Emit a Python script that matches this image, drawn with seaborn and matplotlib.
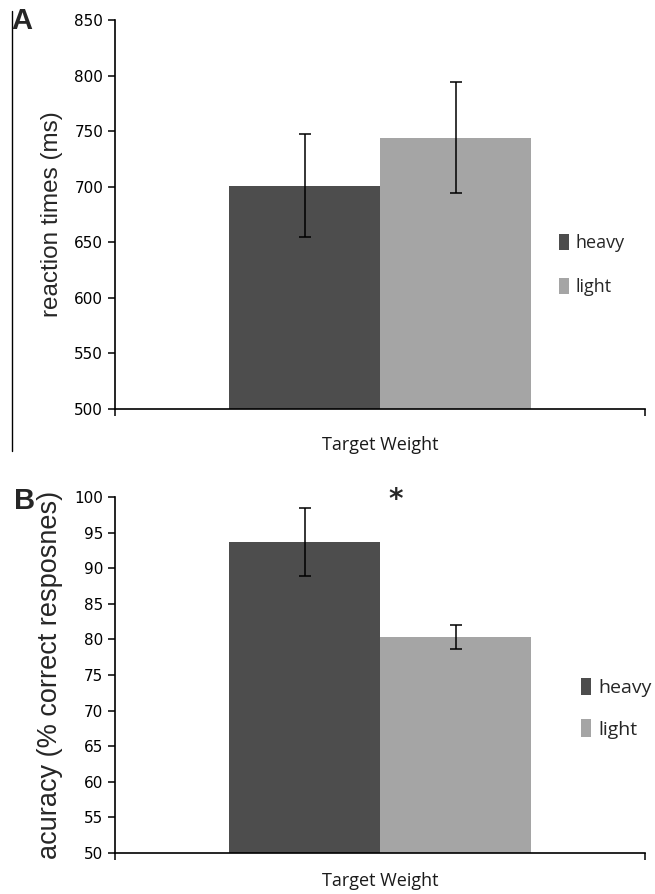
import pandas as pd
import seaborn as sns
import matplotlib.pyplot as plt
from matplotlib.lines import Line2D

# values
weights = ['heavy', 'light']
rt_means = [701, 744]
rt_err = [46, 50]
acc_means = [93.7, 80.3]
acc_err = [4.8, 1.7]
rt_ticks = [500, 550, 600, 650, 700, 750, 800, 850]
acc_ticks = [50, 55, 60, 65, 70, 75, 80, 85, 90, 95, 100]

colors = {'heavy': '#4d4d4d', 'light': '#a5a5a5'}

sns.set_style('white')
plt.rcParams['font.family'] = ['DejaVu Sans']

fig = plt.figure(figsize=(6.55, 8.94), dpi=100)
ax_a = fig.add_axes([0.1756, 0.5425, 0.8094, 0.4351])
ax_b = fig.add_axes([0.1756, 0.0459, 0.8094, 0.3982])


def draw_panel(ax, means, errs, ticks, ylabel, ylab_size, xlab_pad, leg_x, leg_y, leg_size, leg_space):
    df = pd.DataFrame({'Target Weight': [''] * len(weights), 'weight': weights, 'value': means})
    sns.barplot(data=df, x='Target Weight', y='value', hue='weight', hue_order=weights,
                palette=colors, errorbar=None, width=0.8, saturation=1, ax=ax,
                edgecolor='none', linewidth=0)
    # error bars at the centre of each bar
    for cont, m, e in zip(ax.containers, means, errs):
        bar = cont.patches[0]
        ax.errorbar(bar.get_x() + bar.get_width() / 2, m, yerr=e, color='black',
                    elinewidth=1.1, capsize=4, capthick=1.1, zorder=5)
    ax.set_xlim(-0.702, 0.702)
    ax.set_ylim(ticks[0], ticks[-1])
    ax.set_yticks(ticks)
    ax.set_xticks([-0.702, 0.702])
    ax.set_xticklabels(['', ''])
    ax.tick_params(axis='both', direction='out', length=5, width=1.1, color='black',
                   labelsize=11, labelcolor='black', left=True, bottom=True)
    sns.despine(ax=ax)
    for s in ['left', 'bottom']:
        ax.spines[s].set_color('black')
        ax.spines[s].set_linewidth(1.2)
    ax.set_ylabel(ylabel, fontsize=ylab_size, family='Liberation Sans', labelpad=8)
    ax.set_xlabel('Target Weight', fontsize=13, family='Open Sans', labelpad=xlab_pad, color='#1a1a1a')
    ax.legend(loc='center left', bbox_to_anchor=(leg_x, leg_y), frameon=False,
              handlelength=0.55, handleheight=1.0, handletextpad=0.35, labelspacing=leg_space,
              borderpad=0, prop={'family': 'Open Sans', 'size': leg_size})


draw_panel(ax_a, rt_means, rt_err, rt_ticks, 'reaction times (ms)', 17.5, 11,
           0.821, 0.37, 13, 1.45)
draw_panel(ax_b, acc_means, acc_err, acc_ticks, 'acuracy (% correct resposnes)', 19.5, 5,
           0.86, 0.407, 14, 1.15)

ax_b.text(0.04, 99.6, '*', ha='center', va='center', fontsize=20, fontweight='bold',
          family='DejaVu Sans')

fig.text(0.017, 0.977, 'A', fontsize=21, fontweight='bold', family='Liberation Sans', va='center')
fig.text(0.022, 0.440, 'B', fontsize=21, fontweight='bold', family='Liberation Sans', va='center')
fig.add_artist(Line2D([0.018, 0.018], [0.495, 0.988], transform=fig.transFigure,
                      color='black', linewidth=1))

fig.savefig('out.png', dpi=100)
